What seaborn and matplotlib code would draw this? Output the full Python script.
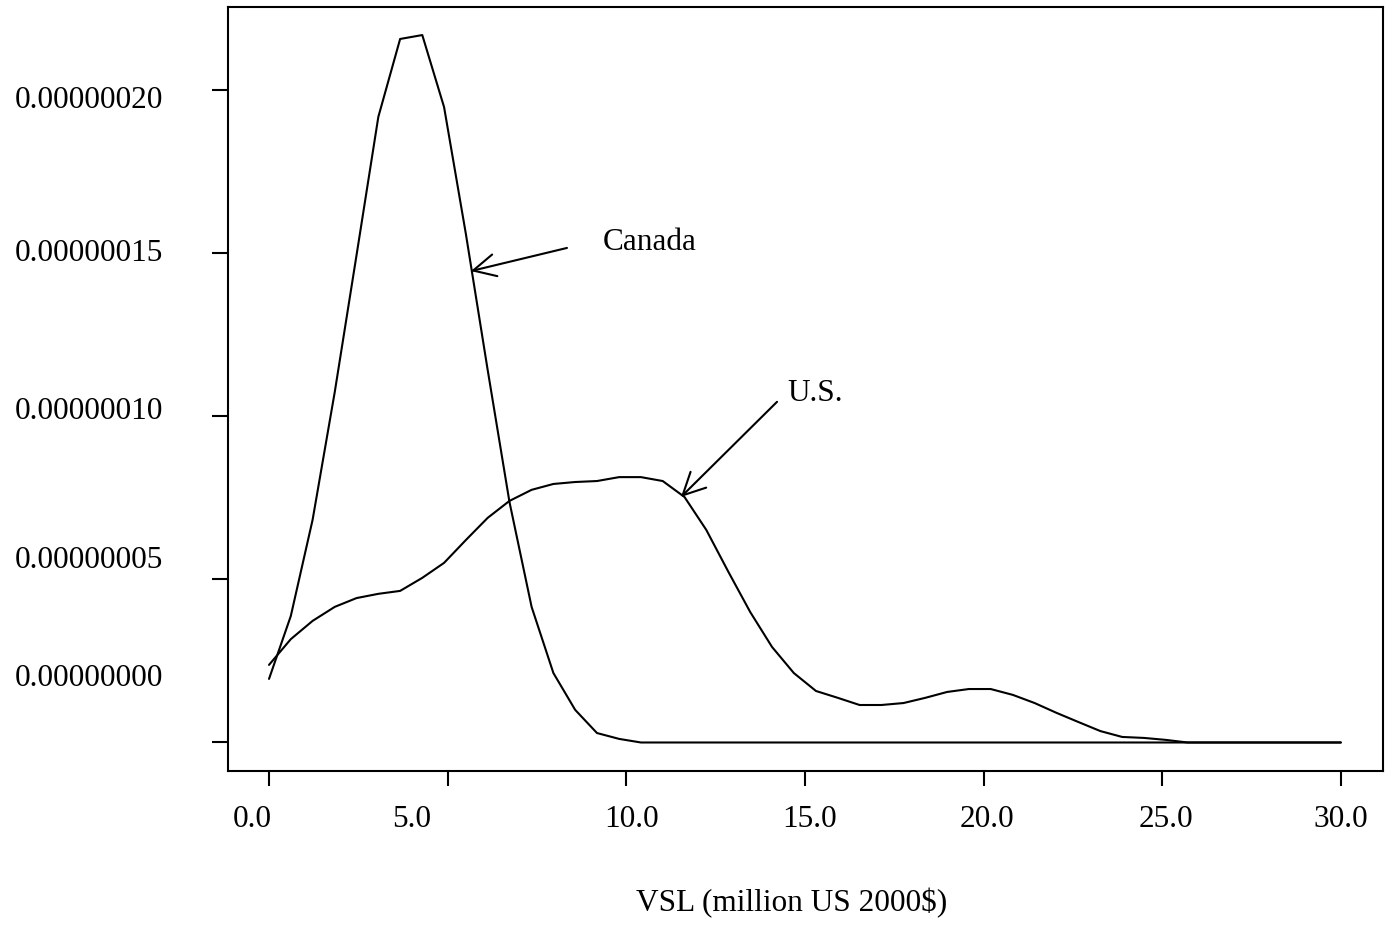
import numpy as np
import matplotlib
matplotlib.use("Agg")
import matplotlib.pyplot as plt
import seaborn as sns

sns.set_style("ticks")
plt.rcParams['font.family'] = ['Liberation Serif', 'DejaVu Serif']
plt.rcParams['text.color'] = 'black'

# Grade de avaliação (milhões US 2000$).
vsl = [0.00, 0.61, 1.22, 1.84, 2.45, 3.06, 3.67, 4.29, 4.90, 5.51,
       6.12, 6.73, 7.35, 7.96, 8.57, 9.18, 9.80, 10.41, 11.02, 11.63,
       12.24, 12.86, 13.47, 14.08, 14.69, 15.31, 15.92, 16.53, 17.14, 17.76,
       18.37, 18.98, 19.59, 20.20, 20.82, 21.43, 22.04, 22.65, 23.27, 23.88,
       24.49, 25.10, 25.71, 26.33, 26.94, 27.55, 28.16, 28.78, 29.39, 30.00]

# Densidades (em 1e-7).
canada = [0.195, 0.388, 0.683, 1.075, 1.495, 1.919, 2.158, 2.170, 1.949, 1.560,
          1.143, 0.738, 0.416, 0.213, 0.100, 0.029, 0.011, 0.0, 0.0, 0.0,
          0.0, 0.0, 0.0, 0.0, 0.0, 0.0, 0.0, 0.0, 0.0, 0.0,
          0.0, 0.0, 0.0, 0.0, 0.0, 0.0, 0.0, 0.0, 0.0, 0.0,
          0.0, 0.0, 0.0, 0.0, 0.0, 0.0, 0.0, 0.0, 0.0, 0.0]
us = [0.238, 0.317, 0.373, 0.416, 0.443, 0.456, 0.465, 0.505, 0.551, 0.621,
      0.689, 0.741, 0.775, 0.793, 0.799, 0.802, 0.814, 0.814, 0.802, 0.753,
      0.652, 0.523, 0.400, 0.293, 0.213, 0.158, 0.137, 0.115, 0.115, 0.121,
      0.137, 0.155, 0.164, 0.164, 0.146, 0.121, 0.091, 0.063, 0.035, 0.017,
      0.014, 0.008, 0.0, 0.0, 0.0, 0.0, 0.0, 0.0, 0.0, 0.0]

x_ticks = [0, 5, 10, 15, 20, 25, 30]
x_labels = ['0.0', '5.0', '10.0', '15.0', '20.0', '25.0', '30.0']
x_label_pos = [-0.48, 4.0, 10.16, 15.14, 20.1, 25.1, 30.0]

y_ticks = [0.0, 0.5e-7, 1.0e-7, 1.5e-7, 2.0e-7]
y_labels = ['0.00000000', '0.00000005', '0.00000010', '0.00000015', '0.00000020']
y_label_pos = [0.195e-7, 0.557e-7, 1.015e-7, 1.500e-7, 1.970e-7]

fig = plt.figure(figsize=(13.93, 9.36), dpi=100)
ax = fig.add_axes([0.1637, 0.1763, 0.8291, 0.8162])

sns.lineplot(x=vsl, y=np.array(canada) * 1e-7, color='black', lw=1.5, ax=ax)
sns.lineplot(x=vsl, y=np.array(us) * 1e-7, color='black', lw=1.5, ax=ax)

ax.set_xlim(-1.147, 31.18)
ax.set_ylim(-0.0874e-7, 2.256e-7)

ax.set_xticks(x_ticks)
ax.set_xticklabels([''] * len(x_ticks))
ax.set_yticks(y_ticks)
ax.set_yticklabels([''] * len(y_ticks))
ax.tick_params(axis='x', direction='out', length=10.8, width=1.5, color='black')
ax.tick_params(axis='y', direction='out', length=11.5, width=1.5, color='black')
for s in ax.spines.values():
    s.set_linewidth(1.5)
    s.set_color('black')

fs = 22.5
for pos, lab in zip(x_label_pos, x_labels):
    ax.text(pos, -0.0641, lab, transform=ax.get_xaxis_transform(),
            ha='center', va='center', fontsize=fs, color='black')
for pos, lab in zip(y_label_pos, y_labels):
    ax.text(-0.0563, pos, lab, transform=ax.get_yaxis_transform(),
            ha='right', va='center', fontsize=fs, color='black')

fig.text(792 / 1393, 1 - 903 / 936, 'VSL (million US 2000$)',
         ha='center', va='center', fontsize=fs, color='black')

# Setas e rótulos.
seta = dict(arrowstyle='->,head_length=0.8,head_width=0.4', lw=1.5,
            color='black', shrinkA=0, shrinkB=0, mutation_scale=20)
ax.annotate('', xy=(5.65, 1.446e-7), xytext=(8.34, 1.517e-7), arrowprops=seta)
ax.text(9.35, 1.535e-7, 'Canada', ha='left', va='center', fontsize=fs, color='black')
ax.annotate('', xy=(11.53, 0.753e-7), xytext=(14.22, 1.045e-7), arrowprops=seta)
ax.text(14.5, 1.072e-7, 'U.S.', ha='left', va='center', fontsize=fs, color='black')

fig.savefig('out.png', dpi=100)
